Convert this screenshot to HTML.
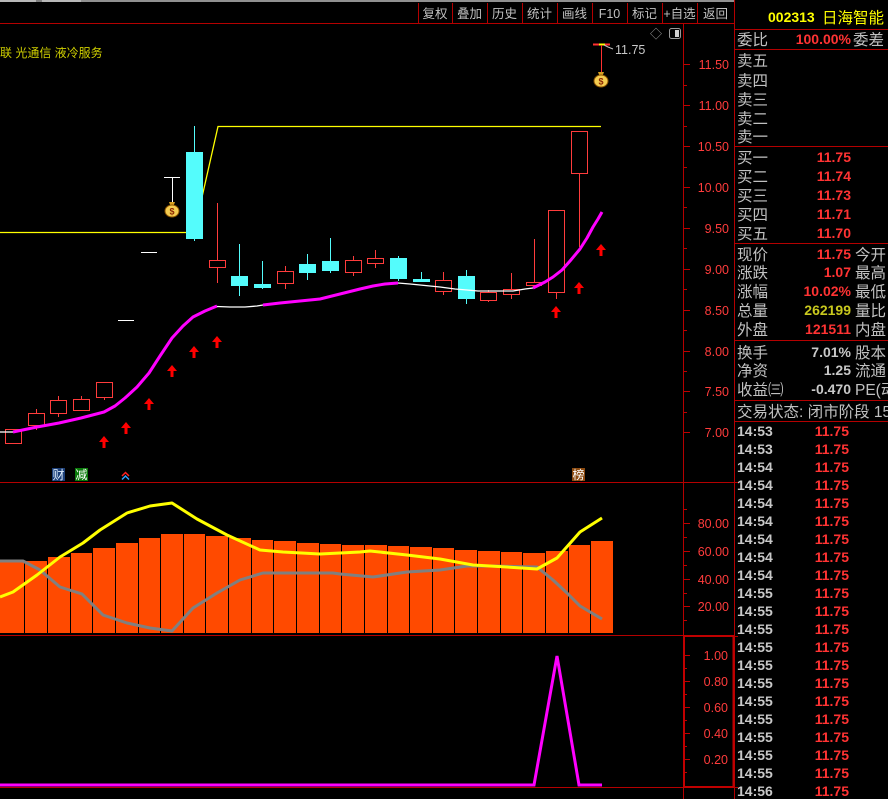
<!DOCTYPE html>
<html><head><meta charset="utf-8"><style>
html,body{margin:0;padding:0;background:#000;}
svg{display:block;}
.cj{font-family:"Liberation Sans","Noto Sans CJK SC",sans-serif;}
</style></head><body>
<svg width="888" height="799" xmlns="http://www.w3.org/2000/svg" font-family="'Liberation Sans','Noto Sans CJK SC',sans-serif">
<rect x="0" y="0" width="888" height="799" fill="#000"/>
<!-- top strip -->
<rect x="0" y="0" width="734" height="2" fill="#b8b8b8"/>
<rect x="36" y="0" width="6" height="2" fill="#808080"/>
<rect x="81" y="0" width="653" height="2" fill="#909090"/>
<!-- toolbar separators -->
<g stroke="#b40000" stroke-width="1">
<line x1="418.5" y1="3" x2="418.5" y2="23"/><line x1="452.5" y1="3" x2="452.5" y2="23"/>
<line x1="487.5" y1="3" x2="487.5" y2="23"/><line x1="522.5" y1="3" x2="522.5" y2="23"/>
<line x1="557.5" y1="3" x2="557.5" y2="23"/><line x1="592.5" y1="3" x2="592.5" y2="23"/>
<line x1="627.5" y1="3" x2="627.5" y2="23"/><line x1="662.5" y1="3" x2="662.5" y2="23"/>
<line x1="697.5" y1="3" x2="697.5" y2="23"/>
</g>
<g fill="#c0c0c0" font-size="12.5" text-anchor="middle">
<text x="435" y="18">复权</text><text x="469.5" y="18">叠加</text><text x="504.5" y="18">历史</text>
<text x="539.5" y="18">统计</text><text x="574.5" y="18">画线</text><text x="609.5" y="18">F10</text>
<text x="644.5" y="18">标记</text><text x="679.5" y="18">+自选</text><text x="715.5" y="18">返回</text>
</g>
<!-- frame lines -->
<g stroke="#b40000" stroke-width="1">
<line x1="0" y1="23.5" x2="734" y2="23.5"/>
<line x1="0" y1="482.5" x2="734" y2="482.5"/>
<line x1="0" y1="635.5" x2="734" y2="635.5"/>
<line x1="0" y1="787.5" x2="734" y2="787.5"/>
<line x1="683.5" y1="23" x2="683.5" y2="799"/>
<line x1="734.5" y1="0" x2="734.5" y2="799"/>
</g>
<rect x="684" y="636" width="49.5" height="151" fill="none" stroke="#c00000" stroke-width="2"/>

<!-- top-left text -->
<text x="0" y="57" font-size="12" fill="#d0d000">联 光通信 液冷服务</text>

<!-- icons top right of chart -->
<text x="656" y="38" font-size="12" fill="#9a9a9a" text-anchor="middle">◇</text>
<rect x="669.5" y="28.5" width="11" height="10" rx="2" fill="none" stroke="#9a9a9a"/>
<rect x="675" y="30" width="4" height="7" fill="#d0d0d0"/>

<!-- axis panel 1 -->
<g stroke="#c00000" stroke-width="1">
<line x1="684" y1="64.5" x2="690" y2="64.5"/><line x1="684" y1="105.5" x2="690" y2="105.5"/>
<line x1="684" y1="146.5" x2="690" y2="146.5"/><line x1="684" y1="187.5" x2="690" y2="187.5"/>
<line x1="684" y1="228.5" x2="690" y2="228.5"/><line x1="684" y1="269.5" x2="690" y2="269.5"/>
<line x1="684" y1="310.5" x2="690" y2="310.5"/><line x1="684" y1="351.5" x2="690" y2="351.5"/>
<line x1="684" y1="391.5" x2="690" y2="391.5"/><line x1="684" y1="432.5" x2="690" y2="432.5"/>
<line x1="684" y1="85.5" x2="687" y2="85.5"/><line x1="684" y1="126.5" x2="687" y2="126.5"/>
<line x1="684" y1="167.5" x2="687" y2="167.5"/><line x1="684" y1="207.5" x2="687" y2="207.5"/>
<line x1="684" y1="248.5" x2="687" y2="248.5"/><line x1="684" y1="289.5" x2="687" y2="289.5"/>
<line x1="684" y1="330.5" x2="687" y2="330.5"/><line x1="684" y1="371.5" x2="687" y2="371.5"/>
<line x1="684" y1="412.5" x2="687" y2="412.5"/>
<!-- panel 2 ticks -->
<line x1="684" y1="523.5" x2="690" y2="523.5"/><line x1="684" y1="551.5" x2="690" y2="551.5"/>
<line x1="684" y1="579.5" x2="690" y2="579.5"/><line x1="684" y1="606.5" x2="690" y2="606.5"/>
<line x1="684" y1="537.5" x2="687" y2="537.5"/><line x1="684" y1="565.5" x2="687" y2="565.5"/>
<line x1="684" y1="593.5" x2="687" y2="593.5"/><line x1="684" y1="509.5" x2="687" y2="509.5"/>
<line x1="684" y1="620.5" x2="687" y2="620.5"/>
<!-- panel 3 ticks -->
<line x1="685" y1="655.5" x2="690" y2="655.5"/><line x1="685" y1="681.5" x2="690" y2="681.5"/>
<line x1="685" y1="707.5" x2="690" y2="707.5"/><line x1="685" y1="733.5" x2="690" y2="733.5"/>
<line x1="685" y1="759.5" x2="690" y2="759.5"/>
<line x1="685" y1="668.5" x2="687" y2="668.5"/><line x1="685" y1="694.5" x2="687" y2="694.5"/>
<line x1="685" y1="720.5" x2="687" y2="720.5"/><line x1="685" y1="746.5" x2="687" y2="746.5"/>
<line x1="685" y1="772.5" x2="687" y2="772.5"/>
</g>
<g fill="#ff3c3c" font-size="12.5" text-anchor="end">
<text x="729" y="69">11.50</text><text x="729" y="110">11.00</text><text x="729" y="151">10.50</text>
<text x="729" y="192">10.00</text><text x="729" y="233">9.50</text><text x="729" y="274">9.00</text>
<text x="729" y="315">8.50</text><text x="729" y="356">8.00</text><text x="729" y="396">7.50</text>
<text x="729" y="437">7.00</text>
<text x="729" y="528">80.00</text><text x="729" y="556">60.00</text><text x="729" y="584">40.00</text>
<text x="729" y="611">20.00</text>
<text x="728" y="660">1.00</text><text x="728" y="686">0.80</text><text x="728" y="712">0.60</text>
<text x="728" y="738">0.40</text><text x="728" y="764">0.20</text>
</g>

<!-- yellow step line -->
<polyline points="0,232.5 194,232.5 218,126.5 601,126.5" fill="none" stroke="#ffff00" stroke-width="1.3"/>

<!-- candles -->
<g fill="none" stroke="#ff3c3c" stroke-width="1">
<rect x="5.5" y="429.5" width="16" height="14"/>
<rect x="28.5" y="413.5" width="16" height="12"/><line x1="36.5" y1="409" x2="36.5" y2="413"/><line x1="36.5" y1="426" x2="36.5" y2="430"/>
<rect x="50.5" y="400.5" width="16" height="13"/><line x1="58.5" y1="396" x2="58.5" y2="400"/><line x1="58.5" y1="414" x2="58.5" y2="417"/>
<rect x="73.5" y="399.5" width="16" height="11"/><line x1="81.5" y1="396" x2="81.5" y2="399"/>
<rect x="96.5" y="382.5" width="16" height="15"/><line x1="104.5" y1="398" x2="104.5" y2="400"/>
<rect x="209.5" y="260.5" width="16" height="7"/><line x1="217.5" y1="203" x2="217.5" y2="260"/><line x1="217.5" y1="268" x2="217.5" y2="283"/>
<rect x="277.5" y="271.5" width="16" height="12"/><line x1="285.5" y1="266" x2="285.5" y2="271"/><line x1="285.5" y1="284" x2="285.5" y2="289"/>
<rect x="345.5" y="260.5" width="16" height="12"/><line x1="353.5" y1="256" x2="353.5" y2="260"/><line x1="353.5" y1="273" x2="353.5" y2="276"/>
<rect x="367.5" y="258.5" width="16" height="5"/><line x1="375.5" y1="250" x2="375.5" y2="258"/><line x1="375.5" y1="264" x2="375.5" y2="268"/>
<rect x="435.5" y="280.5" width="16" height="11"/><line x1="443.5" y1="272" x2="443.5" y2="280"/><line x1="443.5" y1="292" x2="443.5" y2="295"/>
<rect x="480.5" y="292.5" width="16" height="8"/><line x1="488.5" y1="290" x2="488.5" y2="292"/><line x1="488.5" y1="301" x2="488.5" y2="302"/>
<rect x="503.5" y="289.5" width="16" height="5"/><line x1="511.5" y1="273" x2="511.5" y2="289"/><line x1="511.5" y1="295" x2="511.5" y2="299"/>
<rect x="526.5" y="282.5" width="15" height="3"/><line x1="534.5" y1="239" x2="534.5" y2="282"/>
<rect x="548.5" y="210.5" width="16" height="82"/><line x1="556.5" y1="293" x2="556.5" y2="299"/>
<rect x="571.5" y="131.5" width="16" height="42"/><line x1="579.5" y1="174" x2="579.5" y2="247"/>
</g>
<g fill="#54fcfc">
<rect x="186" y="152" width="17" height="87"/><rect x="194" y="126" width="1" height="26"/><rect x="194" y="239" width="1" height="2"/>
<rect x="231" y="276" width="17" height="10"/><rect x="239" y="244" width="1" height="32"/><rect x="239" y="286" width="1" height="10"/>
<rect x="254" y="284" width="17" height="4"/><rect x="262" y="261" width="1" height="23"/><rect x="262" y="288" width="1" height="1"/>
<rect x="299" y="264" width="17" height="9"/><rect x="307" y="254" width="1" height="10"/><rect x="307" y="273" width="1" height="7"/>
<rect x="322" y="261" width="17" height="10"/><rect x="330" y="238" width="1" height="23"/><rect x="330" y="271" width="1" height="2"/>
<rect x="390" y="258" width="17" height="21"/><rect x="398" y="256" width="1" height="2"/><rect x="398" y="279" width="1" height="2"/>
<rect x="413" y="279" width="17" height="3"/><rect x="421" y="272" width="1" height="7"/>
<rect x="458" y="276" width="17" height="23"/><rect x="466" y="270" width="1" height="6"/><rect x="466" y="299" width="1" height="5"/>
</g>
<g stroke="#ffffff" stroke-width="1">
<line x1="118" y1="320.5" x2="134" y2="320.5"/>
<line x1="141" y1="252.5" x2="157" y2="252.5"/>
<line x1="164" y1="177.5" x2="180" y2="177.5"/>
<line x1="172.5" y1="177" x2="172.5" y2="202"/>
</g>
<!-- top marker -->
<line x1="593" y1="44.5" x2="610" y2="44.5" stroke="#ff3030" stroke-width="2"/>
<line x1="599" y1="44.5" x2="605" y2="44.5" stroke="#ffff00" stroke-width="2"/>
<line x1="601.5" y1="45" x2="601.5" y2="73" stroke="#ff3030" stroke-width="1"/>
<polyline points="604,45 608,47 613,49" fill="none" stroke="#c0c0c0" stroke-width="1"/>
<text x="615" y="54" font-size="12.5" fill="#c8c8c8">11.75</text>
<!-- money bags -->
<g transform="translate(172,210)">
<path d="M-3,-8 L3,-8 L1.5,-4 L-1.5,-4 Z" fill="#d8a020"/>
<ellipse cx="0" cy="1" rx="7" ry="6" fill="#f4cc50" stroke="#8a5200"/>
<text x="0" y="4.5" font-size="9" font-weight="bold" fill="#8b2500" text-anchor="middle">$</text>
</g>
<g transform="translate(601,80)">
<path d="M-3,-8 L3,-8 L1.5,-4 L-1.5,-4 Z" fill="#d8a020"/>
<ellipse cx="0" cy="1" rx="7" ry="6" fill="#f4cc50" stroke="#8a5200"/>
<text x="0" y="4.5" font-size="9" font-weight="bold" fill="#8b2500" text-anchor="middle">$</text>
</g>

<!-- MA lines -->
<g fill="none" stroke-linejoin="round">
<polyline points="0,432 13,432" stroke="#ffffff" stroke-width="1.3"/>
<polyline points="13,432 37,427 59,423 81,418 104,412 115,406 125,398 137,387 149,373 160,356 172,338 183,326 193,317 205,311 217,306" stroke="#ff00ff" stroke-width="3"/>
<polyline points="217,306.5 230,307 245,307 257,306 263,305" stroke="#ffffff" stroke-width="1.3"/>
<polyline points="263,305 280,303 300,301 320,299 340,294 360,289 373,286 385,284 398,283" stroke="#ff00ff" stroke-width="3"/>
<polyline points="398,283 410,284 420,285 430,286 440,287 455,289 467,290 478,291 500,291 513,291 525,289 533,288" stroke="#ffffff" stroke-width="1.3"/>
<polyline points="533,288 545,282 553,277 562,270 570,261 580,249 587,238 593,227 598,219 602,212" stroke="#ff00ff" stroke-width="3"/>
</g>

<!-- arrows -->
<g fill="#ff0000">
<g transform="translate(104,436)"><polygon points="0,0 -5,6 5,6"/><rect x="-1.5" y="6" width="3" height="6"/></g>
<g transform="translate(126,422)"><polygon points="0,0 -5,6 5,6"/><rect x="-1.5" y="6" width="3" height="6"/></g>
<g transform="translate(149,398)"><polygon points="0,0 -5,6 5,6"/><rect x="-1.5" y="6" width="3" height="6"/></g>
<g transform="translate(172,365)"><polygon points="0,0 -5,6 5,6"/><rect x="-1.5" y="6" width="3" height="6"/></g>
<g transform="translate(194,346)"><polygon points="0,0 -5,6 5,6"/><rect x="-1.5" y="6" width="3" height="6"/></g>
<g transform="translate(217,336)"><polygon points="0,0 -5,6 5,6"/><rect x="-1.5" y="6" width="3" height="6"/></g>
<g transform="translate(556,306)"><polygon points="0,0 -5,6 5,6"/><rect x="-1.5" y="6" width="3" height="6"/></g>
<g transform="translate(579,282)"><polygon points="0,0 -5,6 5,6"/><rect x="-1.5" y="6" width="3" height="6"/></g>
<g transform="translate(601,244)"><polygon points="0,0 -5,6 5,6"/><rect x="-1.5" y="6" width="3" height="6"/></g>
</g>

<!-- bottom markers -->
<rect x="52" y="468" width="13" height="13" fill="#1c3f78"/>
<text x="58.5" y="479" font-size="12" fill="#e0f0ff" text-anchor="middle">财</text>
<rect x="75" y="468" width="13" height="13" fill="#0a7a0a"/>
<text x="81.5" y="479" font-size="12" fill="#ffffff" text-anchor="middle">减</text>
<polyline points="122,476 125.5,472.5 129,476" fill="none" stroke="#ff2020" stroke-width="1.5"/>
<polyline points="122,479.5 125.5,476 129,479.5" fill="none" stroke="#30a0ff" stroke-width="1.5"/>
<rect x="572" y="468" width="13" height="13" fill="#8b4a10"/>
<text x="578.5" y="479" font-size="12" fill="#ffffff" text-anchor="middle">榜</text>

<!-- panel 2 bars -->
<g fill="#ff4a00">
<rect x="0" y="562" width="24" height="71"/>
<rect x="25" y="561" width="22" height="72"/>
<rect x="48" y="557" width="22" height="76"/>
<rect x="71" y="553" width="21" height="80"/>
<rect x="93" y="548" width="22" height="85"/>
<rect x="116" y="543" width="22" height="90"/>
<rect x="139" y="538" width="21" height="95"/>
<rect x="161" y="534" width="22" height="99"/>
<rect x="184" y="534" width="21" height="99"/>
<rect x="206" y="536" width="22" height="97"/>
<rect x="229" y="538" width="22" height="95"/>
<rect x="252" y="540" width="21" height="93"/>
<rect x="274" y="541" width="22" height="92"/>
<rect x="297" y="543" width="22" height="90"/>
<rect x="320" y="544" width="21" height="89"/>
<rect x="342" y="545" width="22" height="88"/>
<rect x="365" y="545" width="22" height="88"/>
<rect x="388" y="546" width="21" height="87"/>
<rect x="410" y="547" width="22" height="86"/>
<rect x="433" y="548" width="21" height="85"/>
<rect x="455" y="550" width="22" height="83"/>
<rect x="478" y="551" width="22" height="82"/>
<rect x="501" y="552" width="21" height="81"/>
<rect x="523" y="553" width="22" height="80"/>
<rect x="546" y="551" width="22" height="82"/>
<rect x="569" y="545" width="21" height="88"/>
<rect x="591" y="541" width="22" height="92"/>
</g>
<g fill="none" stroke-width="3" stroke-linejoin="round">
<polyline stroke="#808080" points="0,561 23,561 40,570 60,587 82,594 103,615 127,623 150,628 172,631 193,608 217,593 240,580 263,573 333,573 340,574 373,577 407,572 440,570 467,566 490,566 537,567 553,580 567,593 580,606 602,619"/>
<polyline stroke="#ffff00" points="0,597 13,592 37,575 60,557 83,543 100,530 127,513 150,506 172,503 197,519 227,535 260,550 283,552 320,554 360,552 370,551 407,555 440,559 473,565 507,567 537,569 557,558 580,532 602,518"/>
</g>

<!-- panel 3 -->
<polyline points="0,785 534,785 557,656 579,785 602,785" fill="none" stroke="#ff00ff" stroke-width="3" stroke-linejoin="miter"/>

<!-- right panel -->
<g stroke="#b40000" stroke-width="1">
<line x1="735" y1="29.5" x2="888" y2="29.5"/>
<line x1="735" y1="49.5" x2="888" y2="49.5"/>
<line x1="735" y1="146.5" x2="888" y2="146.5"/>
<line x1="735" y1="243.5" x2="888" y2="243.5"/>
<line x1="735" y1="340.5" x2="888" y2="340.5"/>
<line x1="735" y1="400.5" x2="888" y2="400.5"/>
<line x1="735" y1="421.5" x2="888" y2="421.5"/>
</g>
<text x="768" y="22" font-size="14" font-weight="bold" fill="#ffff00">002313</text>
<text x="822" y="23" font-size="15.5" fill="#ffff00">日海智能</text>

<g fill="#c0c0c0" font-size="15.5">
<text x="737" y="45">委比</text><text x="853" y="45">委差</text>
<text x="737" y="66">卖五</text><text x="737" y="86">卖四</text><text x="737" y="105">卖三</text>
<text x="737" y="124">卖二</text><text x="737" y="142">卖一</text>
<text x="737" y="163">买一</text><text x="737" y="182">买二</text><text x="737" y="201">买三</text>
<text x="737" y="220">买四</text><text x="737" y="239">买五</text>
<text x="737" y="260">现价</text><text x="855" y="260">今开</text>
<text x="737" y="278">涨跌</text><text x="855" y="278">最高</text>
<text x="737" y="297">涨幅</text><text x="855" y="297">最低</text>
<text x="737" y="316">总量</text><text x="855" y="316">量比</text>
<text x="737" y="335">外盘</text><text x="855" y="335">内盘</text>
<text x="737" y="358">换手</text><text x="855" y="358">股本</text>
<text x="737" y="376">净资</text><text x="855" y="376">流通</text>
<text x="737" y="395">收益㈢</text><text x="855" y="395">PE(动)</text>
<text x="737" y="417">交易状态: 闭市阶段 15:00</text>
</g>
<g font-size="14" font-weight="bold" text-anchor="end">
<text x="851" y="44" fill="#ff3333">100.00%</text>
<text x="851" y="162" fill="#ff3333">11.75</text>
<text x="851" y="181" fill="#ff3333">11.74</text>
<text x="851" y="200" fill="#ff3333">11.73</text>
<text x="851" y="219" fill="#ff3333">11.71</text>
<text x="851" y="238" fill="#ff3333">11.70</text>
<text x="851" y="259" fill="#ff3333">11.75</text>
<text x="851" y="277" fill="#ff3333">1.07</text>
<text x="851" y="296" fill="#ff3333">10.02%</text>
<text x="851" y="315" fill="#c8c81e">262199</text>
<text x="851" y="334" fill="#ff3333">121511</text>
<text x="851" y="357" fill="#c8c8c8">7.01%</text>
<text x="851" y="375" fill="#c8c8c8">1.25</text>
<text x="851" y="394" fill="#c8c8c8">-0.470</text>
</g>
<g font-size="14" font-weight="bold">
<g fill="#c8c8c8">
<text x="737" y="436">14:53</text><text x="737" y="454">14:53</text>
<text x="737" y="472">14:54</text><text x="737" y="490">14:54</text><text x="737" y="508">14:54</text>
<text x="737" y="526">14:54</text><text x="737" y="544">14:54</text><text x="737" y="562">14:54</text>
<text x="737" y="580">14:54</text>
<text x="737" y="598">14:55</text><text x="737" y="616">14:55</text><text x="737" y="634">14:55</text>
<text x="737" y="652">14:55</text><text x="737" y="670">14:55</text><text x="737" y="688">14:55</text>
<text x="737" y="706">14:55</text><text x="737" y="724">14:55</text><text x="737" y="742">14:55</text>
<text x="737" y="760">14:55</text><text x="737" y="778">14:55</text>
<text x="737" y="796">14:56</text>
</g>
<g fill="#ff3333" text-anchor="end">
<text x="849" y="436">11.75</text><text x="849" y="454">11.75</text><text x="849" y="472">11.75</text>
<text x="849" y="490">11.75</text><text x="849" y="508">11.75</text><text x="849" y="526">11.75</text>
<text x="849" y="544">11.75</text><text x="849" y="562">11.75</text><text x="849" y="580">11.75</text>
<text x="849" y="598">11.75</text><text x="849" y="616">11.75</text><text x="849" y="634">11.75</text>
<text x="849" y="652">11.75</text><text x="849" y="670">11.75</text><text x="849" y="688">11.75</text>
<text x="849" y="706">11.75</text><text x="849" y="724">11.75</text><text x="849" y="742">11.75</text>
<text x="849" y="760">11.75</text><text x="849" y="778">11.75</text><text x="849" y="796">11.75</text>
</g>
</g>
<g stroke="#b40000" stroke-width="1">
<line x1="734" y1="482.5" x2="738" y2="482.5"/>
<line x1="734" y1="636.5" x2="738" y2="636.5"/>
<line x1="734" y1="787.5" x2="738" y2="787.5"/>
</g>
</svg>
</body></html>
